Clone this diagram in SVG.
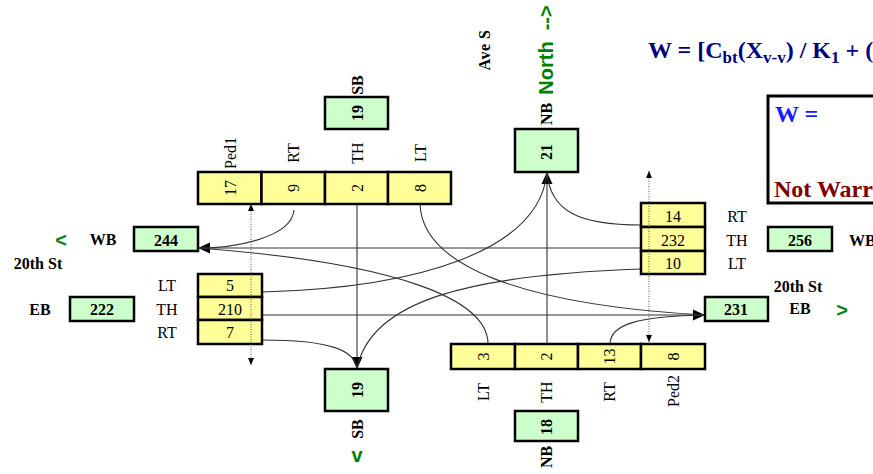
<svg xmlns="http://www.w3.org/2000/svg" width="873" height="474" viewBox="0 0 873 474">
<style>
.y{fill:#FFFF99;stroke:#000;stroke-width:2.5}
.g{fill:#CCFFCC;stroke:#000;stroke-width:2.5}
.v{font-family:"Liberation Serif","Times New Roman",serif;font-size:16px;fill:#000;text-anchor:middle}
.b{font-family:"Liberation Serif","Times New Roman",serif;font-size:16px;font-weight:bold;fill:#000;text-anchor:middle}
.gr{font-family:"Liberation Sans",Arial,sans-serif;font-size:20px;font-weight:bold;fill:#008000;text-anchor:middle}
.c{fill:none;stroke:#333;stroke-width:1.1}
.d{fill:none;stroke:#555;stroke-width:1;stroke-dasharray:1 1.5}
.f{font-family:"Liberation Serif","Times New Roman",serif;font-size:24px;font-weight:bold}
</style>
<defs>
<marker id="ah" markerUnits="userSpaceOnUse" markerWidth="12" markerHeight="12" viewBox="0 0 12 12" refX="12" refY="6" orient="auto"><path d="M0,0.5 L12,6 L0,11.5 z" fill="#000"/></marker>
<marker id="sa" markerUnits="userSpaceOnUse" markerWidth="7" markerHeight="7" viewBox="0 0 7 7" refX="7" refY="3.5" orient="auto"><path d="M0,0.5 L7,3.5 L0,6.5 z" fill="#000"/></marker>
<marker id="sas" markerUnits="userSpaceOnUse" markerWidth="7" markerHeight="7" viewBox="0 0 7 7" refX="0" refY="3.5" orient="auto"><path d="M7,0.5 L0,3.5 L7,6.5 z" fill="#000"/></marker>
</defs>

<g id="formula">
<text x="648" y="58" class="f" font-size="25" fill="#000080">W = [C<tspan font-size="17" dy="5">bt</tspan><tspan dy="-5">(X</tspan><tspan font-size="17" dy="5">v-v</tspan><tspan dy="-5">) / K</tspan><tspan font-size="17" dy="5">1</tspan><tspan dy="-5"> + (</tspan></text>
</g>

<g id="result-box">
<rect x="768" y="96" width="140" height="107" fill="#fff" stroke="#000" stroke-width="3"/>
<text x="775" y="122" class="f" fill="#1a1aff">W =</text>
<text x="774" y="197" class="f" fill="#800000">Not Warranted</text>
</g>

<g id="labels">
<text class="b" transform="translate(490,50) rotate(-90)" letter-spacing="0.5">Ave S</text>
<text class="gr" transform="translate(553,50) rotate(-90)" xml:space="preserve">North  --&gt;</text>
<text class="gr" x="61" y="247">&lt;</text>
<text class="b" x="103" y="245">WB</text>
<text class="b" x="38" y="269">20th St</text>
<text class="b" x="40" y="315">EB</text>
<text class="b" x="798" y="292">20th St</text>
<text class="b" x="800" y="314">EB</text>
<text class="gr" x="842" y="317">&gt;</text>
<text class="b" x="849" y="246" style="text-anchor:start">WB</text>
<text class="gr" x="357" y="462">v</text>
</g>

<g id="connectors">
<path class="c" d="M357,204 L357,369" marker-end="url(#ah)"/>
<path class="c" d="M547,344 L547,172" marker-end="url(#ah)"/>
<path class="c" d="M641,248 L198,248" marker-end="url(#ah)"/>
<path class="c" d="M262,315 L705,315" marker-end="url(#ah)"/>
<path class="c" d="M294,210 C292,236 240,248 198,248"/>
<path class="c" d="M488,344 C488,300 400,263 198,248"/>
<path class="c" d="M641,269 C470,275 370,300 357,369"/>
<path class="c" d="M262,340 C330,340 355,350 357,369"/>
<path class="c" d="M641,225 C580,225 550,212 547,172"/>
<path class="c" d="M262,292 C420,288 540,250 547,172"/>
<path class="c" d="M420,204 C422,265 520,305 705,315"/>
<path class="c" d="M610,344 C610,324 640,316 705,315"/>
</g>

<g id="sb-in">
<rect class="g" x="325" y="97" width="63" height="32"/>
<text class="b" transform="translate(362.5,113) rotate(-90)">19</text>
<text class="b" transform="translate(362.5,85) rotate(-90)">SB</text>
</g>

<g id="sb-approach">
<rect class="y" x="198" y="172" width="63.5" height="32"/>
<rect class="y" x="261.5" y="172" width="63.5" height="32"/>
<rect class="y" x="325" y="172" width="63" height="32"/>
<rect class="y" x="388" y="172" width="63" height="32"/>
<text class="v" transform="translate(235.5,188) rotate(-90)">17</text>
<text class="v" transform="translate(299,188) rotate(-90)">9</text>
<text class="v" transform="translate(362.5,188) rotate(-90)">2</text>
<text class="v" transform="translate(425.5,188) rotate(-90)">8</text>
<text class="v" transform="translate(235.5,153) rotate(-90)">Ped1</text>
<text class="v" transform="translate(299,153) rotate(-90)">RT</text>
<text class="v" transform="translate(362.5,153) rotate(-90)">TH</text>
<text class="v" transform="translate(425.5,153) rotate(-90)">LT</text>
</g>

<g id="nb-out">
<rect class="g" x="515" y="129" width="63" height="43"/>
<text class="b" transform="translate(552,152) rotate(-90)">21</text>
<text class="b" transform="translate(551.5,114) rotate(-90)">NB</text>
</g>

<g id="wb-approach">
<rect class="y" x="641" y="203" width="64" height="24"/>
<rect class="y" x="641" y="227" width="64" height="24"/>
<rect class="y" x="641" y="251" width="64" height="23"/>
<text class="v" x="673" y="222">14</text>
<text class="v" x="673" y="246">232</text>
<text class="v" x="673" y="269">10</text>
<text class="v" x="737" y="222">RT</text>
<text class="v" x="737" y="246">TH</text>
<text class="v" x="737" y="269">LT</text>
</g>

<g id="wb-in">
<rect class="g" x="768" y="227" width="64" height="24"/>
<text class="b" x="800" y="246">256</text>
</g>

<g id="wb-out">
<rect class="g" x="134" y="227" width="64" height="24"/>
<text class="b" x="166" y="246">244</text>
</g>

<g id="eb-approach">
<rect class="y" x="198" y="274" width="64" height="23"/>
<rect class="y" x="198" y="297" width="64" height="23"/>
<rect class="y" x="198" y="320" width="64" height="24"/>
<text class="v" x="230" y="291">5</text>
<text class="v" x="230" y="315">210</text>
<text class="v" x="230" y="338">7</text>
<text class="v" x="167" y="291">LT</text>
<text class="v" x="167" y="315">TH</text>
<text class="v" x="167" y="338">RT</text>
</g>

<g id="eb-in">
<rect class="g" x="70" y="297" width="64" height="24"/>
<text class="b" x="102" y="315">222</text>
</g>

<g id="eb-out">
<rect class="g" x="705" y="297" width="63" height="24"/>
<text class="b" x="736" y="315">231</text>
</g>

<g id="sb-out">
<rect class="g" x="325" y="369" width="63" height="42"/>
<text class="b" transform="translate(362.5,390) rotate(-90)">19</text>
<text class="b" transform="translate(362.5,429) rotate(-90)">SB</text>
</g>

<g id="nb-approach">
<rect class="y" x="451" y="344" width="64" height="25"/>
<rect class="y" x="515" y="344" width="63" height="25"/>
<rect class="y" x="578" y="344" width="63" height="25"/>
<rect class="y" x="641" y="344" width="64" height="25"/>
<text class="v" transform="translate(488.5,356.5) rotate(-90)">3</text>
<text class="v" transform="translate(552,356.5) rotate(-90)">2</text>
<text class="v" transform="translate(615,356.5) rotate(-90)">13</text>
<text class="v" transform="translate(678.5,356.5) rotate(-90)">8</text>
<text class="v" transform="translate(488.5,392) rotate(-90)">LT</text>
<text class="v" transform="translate(552,392) rotate(-90)">TH</text>
<text class="v" transform="translate(615,392) rotate(-90)">RT</text>
<text class="v" transform="translate(678.5,391) rotate(-90)">Ped2</text>
</g>

<g id="nb-in">
<rect class="g" x="515" y="411" width="63" height="30"/>
<text class="b" transform="translate(552,427) rotate(-90)">18</text>
<text class="b" transform="translate(552,457) rotate(-90)">NB</text>
</g>

<g id="ped-crossings">
<path class="d" d="M251,204 L251,365" marker-start="url(#sas)" marker-end="url(#sa)"/>
<path class="d" d="M649,171 L649,342" marker-start="url(#sas)" marker-end="url(#sa)"/>
</g>
</svg>
